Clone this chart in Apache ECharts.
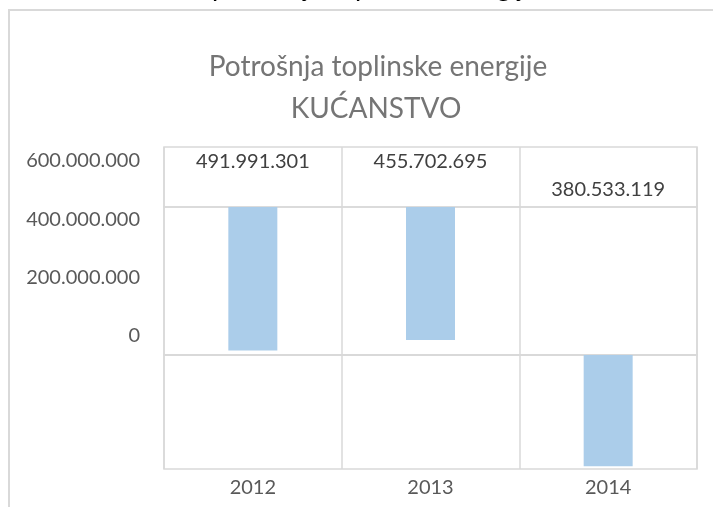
<!DOCTYPE html>
<html>
<head>
<meta charset="UTF-8">
<script src="https://cdn.jsdelivr.net/npm/echarts@6/dist/echarts.min.js"></script>
<style>
  html, body { margin: 0; padding: 0; background: #fff; }
  #main { width: 713px; height: 507px; }
</style>
</head>
<body>
<div id="main"></div>
<script>
// podaci
var godine = ['2012', '2013', '2014'];
var potrosnja = [491991301, 455702695, 380533119];
var yOznake = [0, 200000000, 400000000, 600000000];

var siva = '#d9d9d9';
var font = 'Lato';

// tocke kao separator tisucica
function fmt(v) {
    return String(v).replace(/\B(?=(\d{3})+(?!\d))/g, '.');
}

var myChart = echarts.init(document.getElementById('main'));

function xOs(idx, showLabel) {
    return {
        type: 'category',
        gridIndex: idx,
        data: godine,
        boundaryGap: true,
        axisLine: { show: showLabel, lineStyle: { color: siva, width: 1.5 } },
        axisTick: { show: false },
        axisLabel: { show: showLabel, color: '#595959', fontSize: 20, fontFamily: font, margin: 9 },
        splitLine: { show: true, interval: 0, lineStyle: { color: siva, width: 1.5 } }
    };
}

var gridBase = { left: 164, right: 16, show: true, borderColor: siva, borderWidth: 1.5, backgroundColor: 'transparent' };
var naslov = { color: '#757575', fontSize: 28, fontWeight: 'normal', fontFamily: font };

myChart.setOption({
    backgroundColor: '#fff',
    animation: false,
    title: [
        { text: 'Potrošnja toplinske energije', left: 373, top: 48, textAlign: 'center', textStyle: naslov },
        { text: 'KUĆANSTVO', left: 371, top: 90, textAlign: 'center', textStyle: naslov }
    ],
    graphic: [{
        type: 'polyline',
        shape: { points: [[9, 520], [9, 10], [720, 10]] },
        style: { stroke: siva, lineWidth: 2, fill: null }
    }, {
        // odrezani naslov iznad okvira
        type: 'text',
        left: 212, top: -26,
        style: { text: 'potrošnja toplinske energije', fill: '#000', fontSize: 27, fontFamily: font }
    }],
    grid: [
        Object.assign({ top: 147, height: 60 }, gridBase),
        Object.assign({ top: 207, height: 148 }, gridBase),
        Object.assign({ top: 355, height: 114 }, gridBase),
        { left: 164, right: 16, top: 161, height: 175, show: false }
    ],
    xAxis: [xOs(0, false), xOs(1, false), xOs(2, true),
        { type: 'category', gridIndex: 3, data: godine, show: false }],
    yAxis: [
        { type: 'value', gridIndex: 0, show: false },
        { type: 'value', gridIndex: 1, inverse: true, min: 0, max: 507000000, show: false },
        { type: 'value', gridIndex: 2, inverse: true, min: 0, max: 390000000, show: false },
        {
            type: 'value', gridIndex: 3, min: yOznake[0], max: yOznake[yOznake.length - 1], interval: 200000000,
            axisLine: { show: false }, axisTick: { show: false }, splitLine: { show: false },
            axisLabel: { color: '#595959', fontSize: 20, fontFamily: font, margin: 24, formatter: fmt }
        }
    ],
    series: [{
        type: 'bar',
        xAxisIndex: 1, yAxisIndex: 1,
        barWidth: 49,
        itemStyle: { color: '#abcdea' },
        data: potrosnja.map(function (v, i) { return i < 2 ? v : '-'; }),
        label: {
            show: true, position: ['50%', -45], align: 'center', verticalAlign: 'middle',
            color: '#404040', fontSize: 20, fontFamily: font,
            formatter: function (p) { return fmt(p.value); }
        }
    }, {
        type: 'bar',
        xAxisIndex: 2, yAxisIndex: 2,
        barWidth: 49,
        itemStyle: { color: '#abcdea' },
        data: potrosnja.map(function (v, i) { return i === 2 ? v : '-'; }),
        label: {
            show: true, position: ['50%', -165], align: 'center', verticalAlign: 'middle',
            color: '#404040', fontSize: 20, fontFamily: font,
            formatter: function (p) { return fmt(p.value); }
        }
    }]
});
</script>
</body>
</html>
